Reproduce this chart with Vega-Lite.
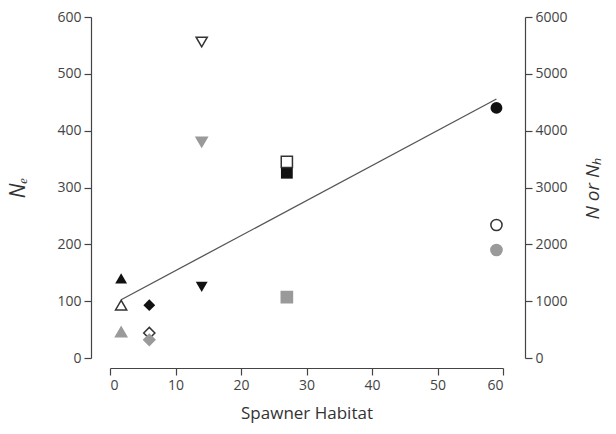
{
  "$schema": "https://vega.github.io/schema/vega-lite/v6.json",
  "width": 393,
  "height": 341,
  "autosize": "none",
  "padding": {"left": 110, "top": 17, "right": 113, "bottom": 76},
  "background": "white",
  "config": {
    "view": {"stroke": null},
    "font": "Open Sans",
    "axis": {
      "grid": false,
      "domainColor": "#444",
      "domainWidth": 1.2,
      "tickColor": "#444",
      "tickWidth": 1.2,
      "tickSize": 7,
      "labelFont": "Open Sans",
      "labelFontSize": 14,
      "labelColor": "#444",
      "labelPadding": 3,
      "titleFont": "Open Sans",
      "titleFontWeight": "normal",
      "titleColor": "#333",
      "titleFontSize": 17
    }
  },
  "datasets": {
    "ne": [
      {"population": "P1", "habitat": 1.7, "Ne": 140},
      {"population": "P2", "habitat": 6, "Ne": 93},
      {"population": "P3", "habitat": 14, "Ne": 125},
      {"population": "P4", "habitat": 27, "Ne": 326},
      {"population": "P5", "habitat": 59, "Ne": 440}
    ],
    "census": [
      {"population": "P1", "habitat": 1.7, "estimate": "N", "value": 930},
      {"population": "P2", "habitat": 6, "estimate": "N", "value": 440},
      {"population": "P3", "habitat": 14, "estimate": "N", "value": 5560},
      {"population": "P4", "habitat": 27, "estimate": "N", "value": 3450},
      {"population": "P5", "habitat": 59, "estimate": "N", "value": 2340},
      {"population": "P1", "habitat": 1.7, "estimate": "Nh", "value": 460},
      {"population": "P2", "habitat": 6, "estimate": "Nh", "value": 320},
      {"population": "P3", "habitat": 14, "estimate": "Nh", "value": 3800},
      {"population": "P4", "habitat": 27, "estimate": "Nh", "value": 1070},
      {"population": "P5", "habitat": 59, "estimate": "Nh", "value": 1900}
    ],
    "fit": [
      {"habitat": 1.7, "Ne": 102.5},
      {"habitat": 59, "Ne": 455.7}
    ]
  },
  "layer": [
    {
      "layer": [
        {
          "data": {"name": "fit"},
          "mark": {"type": "line", "color": "#555", "strokeWidth": 1.3},
          "encoding": {
            "x": {"field": "habitat", "type": "quantitative", "scale": {"domain": [0, 60], "nice": false},
                  "axis": {"title": "Spawner Habitat", "values": [0, 10, 20, 30, 40, 50, 60], "offset": 10, "titlePadding": 13}},
            "y": {"field": "Ne", "type": "quantitative", "scale": {"domain": [0, 600], "nice": false},
                  "axis": {"title": "Nₑ", "titleFontStyle": "italic", "values": [0, 100, 200, 300, 400, 500, 600], "offset": 19, "titlePadding": 28, "titleFontSize": 21}}
          }
        },
        {
          "data": {"name": "ne"},
          "mark": {"type": "point", "filled": true, "opacity": 1, "size": 140, "color": "#111"},
          "encoding": {
            "x": {"field": "habitat", "type": "quantitative"},
            "y": {"field": "Ne", "type": "quantitative"},
            "shape": {"field": "population", "type": "nominal",
                      "scale": {"domain": ["P1", "P2", "P3", "P4", "P5"], "range": ["triangle-up", "diamond", "triangle-down", "square", "circle"]},
                      "legend": null}
          }
        }
      ]
    },
    {
      "data": {"name": "census"},
      "mark": {"type": "point", "filled": true, "opacity": 1, "size": 125, "strokeWidth": 1.5},
      "encoding": {
        "x": {"field": "habitat", "type": "quantitative"},
        "y": {"field": "value", "type": "quantitative", "scale": {"domain": [0, 6000], "nice": false},
              "axis": {"orient": "right", "title": "N or Nₕ", "titleFontStyle": "italic", "titleAngle": 270, "format": "d", "values": [0, 1000, 2000, 3000, 4000, 5000, 6000], "offset": 22, "titlePadding": 35, "titleFontSize": 19}},
        "shape": {"field": "population", "type": "nominal",
                  "scale": {"domain": ["P1", "P2", "P3", "P4", "P5"], "range": ["triangle-up", "diamond", "triangle-down", "square", "circle"]},
                  "legend": null},
        "fill": {"field": "estimate", "type": "nominal", "scale": {"domain": ["N", "Nh"], "range": ["#ffffff", "#9a9a9a"]}, "legend": null},
        "stroke": {"field": "estimate", "type": "nominal", "scale": {"domain": ["N", "Nh"], "range": ["#333333", "#9a9a9a"]}, "legend": null}
      }
    }
  ],
  "resolve": {"scale": {"y": "independent"}}
}
